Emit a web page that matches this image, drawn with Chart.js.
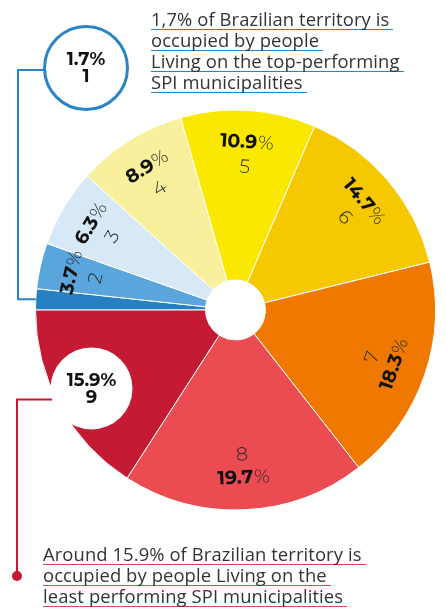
<!DOCTYPE html>
<html>
<head>
<meta charset="utf-8">
<script src="https://cdn.jsdelivr.net/npm/chart.js@4/dist/chart.umd.min.js"></script>
<style>
  html, body { margin: 0; padding: 0; background: #fff; }
  #wrap { position: relative; width: 446px; height: 608px; overflow: hidden; }
  #spiChart { position: absolute; left: 0; top: 0; }
  .note { position: absolute; font-family: "Open Sans", sans-serif; font-weight: 400;
          font-size: 18.4px; color: #333; letter-spacing: 0.1px; }
  .note div { display: table; padding-right: 4px; border-bottom: 1.5px solid; height: 20px; line-height: 20px; margin-bottom: 0; white-space: nowrap; }
  .note.blue div { border-color: #2b84c6; }
  .note.red div { border-color: #d3475d; }
  #noteTop { left: 151px; top: 9px; }
  #noteBottom { left: 43px; top: 544px; }
</style>
</head>
<body>
<div id="wrap">
  <canvas id="spiChart" width="446" height="608"></canvas>
  <div id="noteTop" class="note blue">
    <div>1,7% of Brazilian territory is</div>
    <div>occupied by people</div>
    <div>Living on the top-performing</div>
    <div>SPI municipalities</div>
  </div>
  <div id="noteBottom" class="note red">
    <div>Around 15.9% of Brazilian territory is</div>
    <div>occupied by people Living on the</div>
    <div>least performing SPI municipalities</div>
  </div>
</div>
<script>
// SPI groups, 1 = top performing, 9 = least performing
const groups = ["1", "2", "3", "4", "5", "6", "7", "8", "9"];
const shares = [1.7, 3.7, 6.3, 8.9, 10.9, 14.7, 18.3, 19.7, 15.9];
const sliceColors = ["#2780c3", "#5aa6dc", "#d7e8f7", "#f8f09d", "#fbe800", "#f6c800", "#ef7900", "#ea4c52", "#c51a33"];
// groups 1 and 9 get a badge instead of a label inside the slice
const badgeGroups = ["1", "9"];

const FONT = '"Montserrat", "Open Sans", sans-serif';

// draws the value + group number inside each slice, turned along the arc
const sliceLabels = {
    id: "sliceLabels",
    afterDatasetsDraw(chart) {
        const ctx = chart.ctx;
        const arcs = chart.getDatasetMeta(0).data;
        ctx.save();
        ctx.textAlign = "left";
        ctx.textBaseline = "middle";
        arcs.forEach((arc, i) => {
            if (badgeGroups.includes(groups[i])) return;
            const p = arc.getProps(["x", "y", "startAngle", "endAngle", "outerRadius"], true);
            const mid = (p.startAngle + p.endAngle) / 2;
            let rot = mid + Math.PI / 2;
            while (rot > Math.PI) rot -= 2 * Math.PI;
            if (rot > Math.PI / 2) rot -= Math.PI;
            if (rot < -Math.PI / 2) rot += Math.PI;

            // value (outer line)
            const rv = p.outerRadius * 0.84;
            ctx.save();
            ctx.translate(p.x + rv * Math.cos(mid), p.y + rv * Math.sin(mid));
            ctx.rotate(rot);
            const valTxt = shares[i].toFixed(1);
            ctx.font = "bold 19px " + FONT;
            const w1 = ctx.measureText(valTxt).width;
            ctx.font = "300 19px " + FONT;
            const w2 = ctx.measureText("%").width;
            ctx.fillStyle = "#111";
            ctx.font = "bold 19px " + FONT;
            ctx.fillText(valTxt, -(w1 + w2) / 2, 0);
            ctx.fillStyle = "#2a2a2a";
            ctx.font = "300 19px " + FONT;
            ctx.fillText("%", -(w1 + w2) / 2 + w1 + 1, 0);
            ctx.restore();

            // group number (inner line)
            const rn = p.outerRadius * 0.72;
            ctx.save();
            ctx.translate(p.x + rn * Math.cos(mid), p.y + rn * Math.sin(mid));
            ctx.rotate(rot);
            ctx.textAlign = "center";
            ctx.fillStyle = "#2a2a2a";
            ctx.font = "300 19px " + FONT;
            ctx.fillText(groups[i], 0, 1);
            ctx.restore();
        });
        ctx.restore();
    }
};

// the two callout badges and their leader lines
const badges = {
    id: "badges",
    afterDraw(chart) {
        const ctx = chart.ctx;
        const arcs = chart.getDatasetMeta(0).data;

        function badgeText(cx, cy, i) {
            ctx.fillStyle = "#111";
            ctx.textAlign = "center";
            ctx.textBaseline = "middle";
            ctx.font = "bold 18px " + FONT;
            ctx.fillText(shares[i].toFixed(1) + "%", cx, cy - 8);
            ctx.fillText(groups[i], cx, cy + 9);
        }

        ctx.save();
        // top one, group 1
        const a1 = arcs[0].getProps(["x", "y", "startAngle", "endAngle", "outerRadius"], true);
        const m1 = (a1.startAngle + a1.endAngle) / 2;
        const ex = a1.x + a1.outerRadius * Math.cos(m1);
        const ey = a1.y + a1.outerRadius * Math.sin(m1);
        ctx.strokeStyle = "#2b84c6";
        ctx.lineWidth = 2;
        ctx.beginPath();
        ctx.moveTo(86, 70);
        ctx.lineTo(18, 70);
        ctx.lineTo(18, ey);
        ctx.lineTo(ex, ey);
        ctx.stroke();
        ctx.beginPath();
        ctx.arc(86, 68, 41.5, 0, Math.PI * 2);
        ctx.fillStyle = "#fff";
        ctx.fill();
        ctx.lineWidth = 3;
        ctx.stroke();
        badgeText(86, 68, 0);

        // bottom one, group 9
        const a9 = arcs[8].getProps(["x", "y", "startAngle", "endAngle", "outerRadius"], true);
        const m9 = (a9.startAngle + a9.endAngle) / 2;
        const r9 = a9.outerRadius * 0.82;
        const cx = a9.x + r9 * Math.cos(m9);
        const cy = a9.y + r9 * Math.sin(m9);
        ctx.strokeStyle = "#c51a33";
        ctx.lineWidth = 2;
        ctx.beginPath();
        ctx.moveTo(cx, cy + 11);
        ctx.lineTo(17, cy + 11);
        ctx.lineTo(17, 576);
        ctx.stroke();
        ctx.beginPath();
        ctx.arc(17, 576, 5, 0, Math.PI * 2);
        ctx.fillStyle = "#c51a33";
        ctx.fill();
        ctx.beginPath();
        ctx.arc(cx, cy, 41, 0, Math.PI * 2);
        ctx.fillStyle = "#fff";
        ctx.fill();
        badgeText(cx, cy, 8);
        ctx.restore();
    }
};

new Chart(document.getElementById("spiChart"), {
    type: "doughnut",
    data: {
        labels: groups,
        datasets: [{
            data: shares,
            backgroundColor: sliceColors,
            borderColor: "#fff",
            borderWidth: 1
        }]
    },
    options: {
        responsive: false,
        animation: false,
        rotation: 270,
        cutout: "15%",
        layout: { padding: { left: 35, right: 10, top: 109, bottom: 97 } },
        plugins: {
            legend: { display: false },
            tooltip: { enabled: false }
        }
    },
    plugins: [sliceLabels, badges]
});
</script>
</body>
</html>
